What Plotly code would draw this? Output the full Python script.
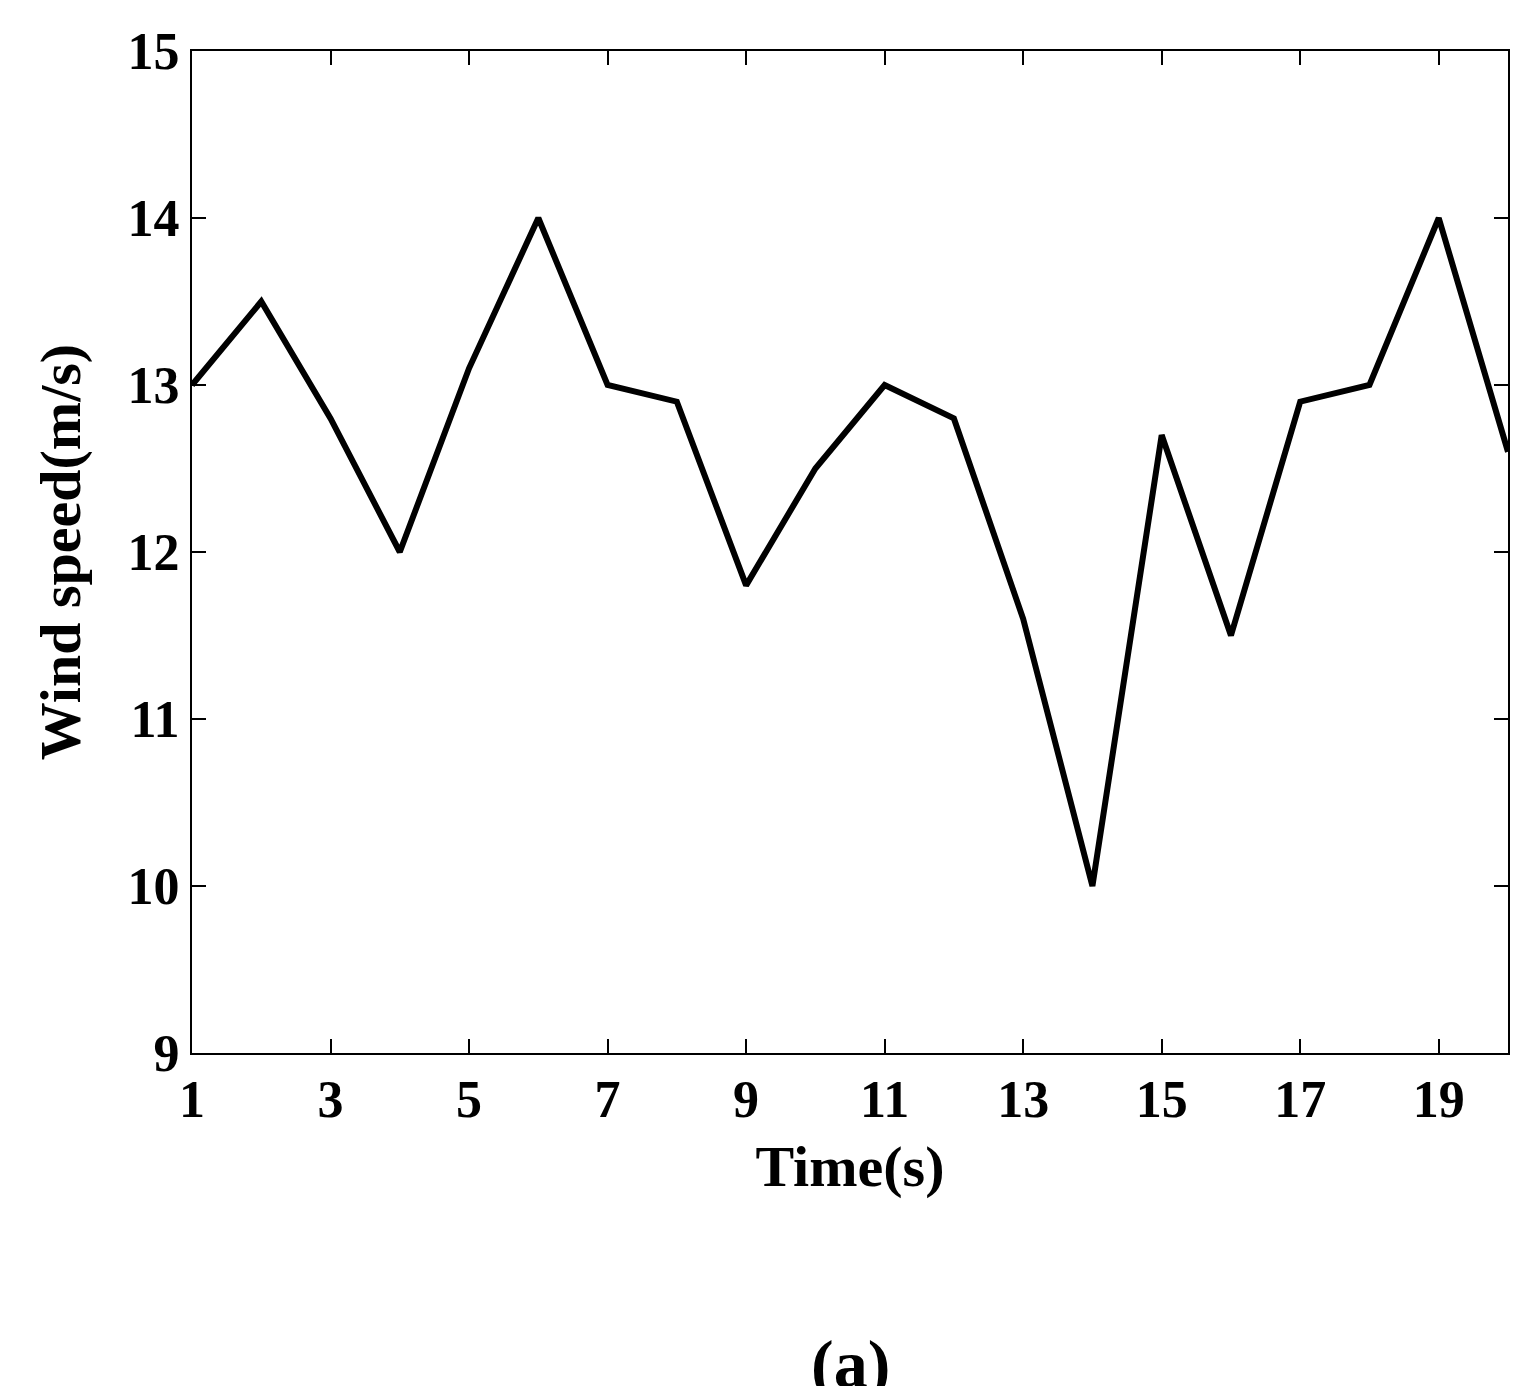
import plotly.graph_objects as go

time_s = list(range(1, 21))
wind_speed = [13.0, 13.5, 12.8, 12.0, 13.1, 14.0, 13.0, 12.9, 11.8, 12.5,
              13.0, 12.8, 11.6, 10.0, 12.7, 11.5, 12.9, 13.0, 14.0, 12.6]
x_ticks = [1, 3, 5, 7, 9, 11, 13, 15, 17, 19]
y_ticks = [9, 10, 11, 12, 13, 14, 15]

font = dict(family="Liberation Serif", size=52, color="black")
tfont = dict(family="Liberation Serif", size=58, color="black")
fig = go.Figure(go.Scatter(x=time_s, y=wind_speed, mode="lines",
                           line=dict(color="black", width=6)))
axis_common = dict(showline=True, linecolor="black", linewidth=2, mirror="ticks",
                   ticks="inside", ticklen=14, tickwidth=2, tickcolor="black",
                   showgrid=False, zeroline=False, tickfont=font)
fig.update_xaxes(range=[1, 20], tickvals=x_ticks, ticktext=[f"<b>{v}</b>" for v in x_ticks],
                 title=dict(text="<b>Time(s)</b>", font=tfont, standoff=18), **axis_common)
fig.update_yaxes(range=[9, 15], tickvals=y_ticks, ticktext=[f"<b>{v}</b>" for v in y_ticks],
                 title=dict(text="<b>Wind speed(m/s)</b>", font=tfont, standoff=28), **axis_common)
fig.add_annotation(text="<b>(a)</b>", xref="paper", yref="paper", x=0.5, y=-0.27,
                   yanchor="top", showarrow=False,
                   font=dict(family="Liberation Serif", size=68, color="black"))
fig.update_layout(width=1522, height=1386, plot_bgcolor="white", paper_bgcolor="white",
                  margin=dict(l=184, r=22, t=43, b=341), showlegend=False)
fig.write_html("out.html")
